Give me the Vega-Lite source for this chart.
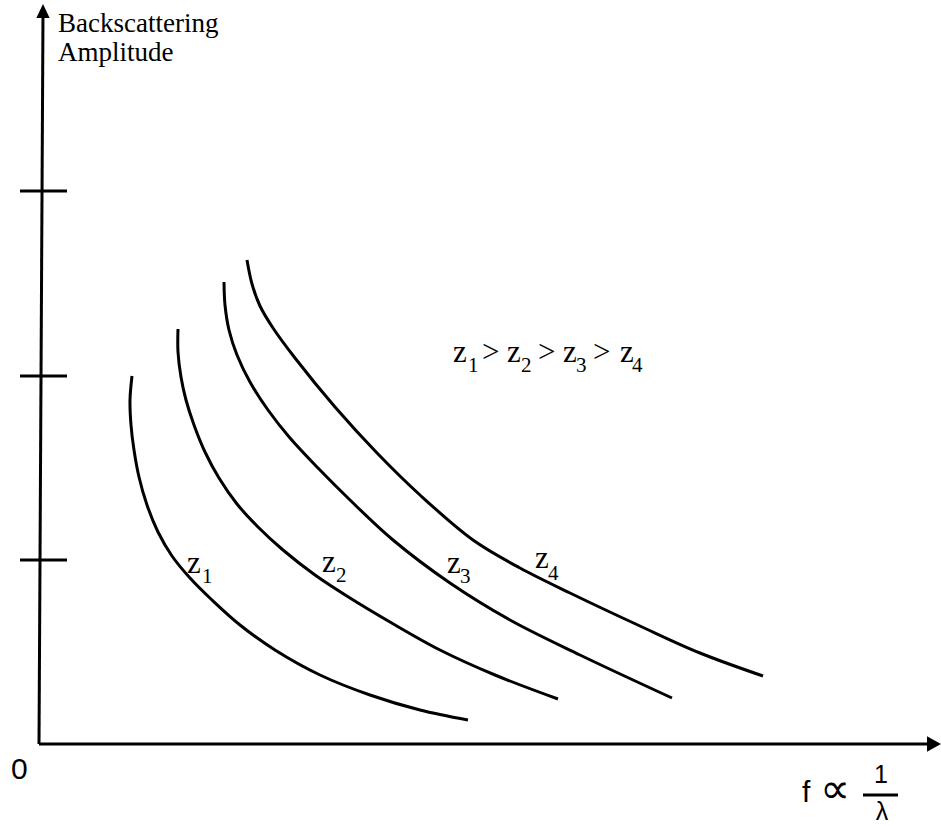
{
  "$schema": "https://vega.github.io/schema/vega-lite/v6.json",
  "width": 941,
  "height": 826,
  "autosize": "none",
  "padding": 0,
  "background": "white",
  "config": {"view": {"stroke": null}},
  "datasets": {
    "curves": [
      {"curve": "z1", "i": 0, "f": 0.92, "A": 3.68},
      {"curve": "z1", "i": 1, "f": 0.90, "A": 3.44},
      {"curve": "z1", "i": 2, "f": 0.91, "A": 3.19},
      {"curve": "z1", "i": 3, "f": 0.94, "A": 2.94},
      {"curve": "z1", "i": 4, "f": 0.99, "A": 2.67},
      {"curve": "z1", "i": 5, "f": 1.07, "A": 2.39},
      {"curve": "z1", "i": 6, "f": 1.18, "A": 2.12},
      {"curve": "z1", "i": 7, "f": 1.32, "A": 1.88},
      {"curve": "z1", "i": 8, "f": 1.50, "A": 1.66},
      {"curve": "z1", "i": 9, "f": 1.72, "A": 1.44},
      {"curve": "z1", "i": 10, "f": 2.00, "A": 1.19},
      {"curve": "z1", "i": 11, "f": 2.35, "A": 0.94},
      {"curve": "z1", "i": 12, "f": 2.80, "A": 0.69},
      {"curve": "z1", "i": 13, "f": 3.30, "A": 0.49},
      {"curve": "z1", "i": 14, "f": 3.80, "A": 0.34},
      {"curve": "z1", "i": 15, "f": 4.28, "A": 0.24},

      {"curve": "z2", "i": 0, "f": 1.38, "A": 4.15},
      {"curve": "z2", "i": 1, "f": 1.38, "A": 3.92},
      {"curve": "z2", "i": 2, "f": 1.41, "A": 3.67},
      {"curve": "z2", "i": 3, "f": 1.46, "A": 3.44},
      {"curve": "z2", "i": 4, "f": 1.54, "A": 3.19},
      {"curve": "z2", "i": 5, "f": 1.65, "A": 2.92},
      {"curve": "z2", "i": 6, "f": 1.79, "A": 2.66},
      {"curve": "z2", "i": 7, "f": 1.97, "A": 2.40},
      {"curve": "z2", "i": 8, "f": 2.18, "A": 2.17},
      {"curve": "z2", "i": 9, "f": 2.43, "A": 1.94},
      {"curve": "z2", "i": 10, "f": 2.75, "A": 1.69},
      {"curve": "z2", "i": 11, "f": 3.10, "A": 1.46},
      {"curve": "z2", "i": 12, "f": 3.50, "A": 1.22},
      {"curve": "z2", "i": 13, "f": 4.00, "A": 0.94},
      {"curve": "z2", "i": 14, "f": 4.55, "A": 0.69},
      {"curve": "z2", "i": 15, "f": 5.18, "A": 0.45},

      {"curve": "z3", "i": 0, "f": 1.84, "A": 4.62},
      {"curve": "z3", "i": 1, "f": 1.85, "A": 4.39},
      {"curve": "z3", "i": 2, "f": 1.89, "A": 4.14},
      {"curve": "z3", "i": 3, "f": 1.97, "A": 3.89},
      {"curve": "z3", "i": 4, "f": 2.10, "A": 3.62},
      {"curve": "z3", "i": 5, "f": 2.28, "A": 3.34},
      {"curve": "z3", "i": 6, "f": 2.50, "A": 3.06},
      {"curve": "z3", "i": 7, "f": 2.78, "A": 2.76},
      {"curve": "z3", "i": 8, "f": 3.10, "A": 2.44},
      {"curve": "z3", "i": 9, "f": 3.53, "A": 2.04},
      {"curve": "z3", "i": 10, "f": 4.10, "A": 1.61},
      {"curve": "z3", "i": 11, "f": 4.70, "A": 1.24},
      {"curve": "z3", "i": 12, "f": 5.40, "A": 0.89},
      {"curve": "z3", "i": 13, "f": 6.32, "A": 0.46},

      {"curve": "z4", "i": 0, "f": 2.07, "A": 4.84},
      {"curve": "z4", "i": 1, "f": 2.12, "A": 4.60},
      {"curve": "z4", "i": 2, "f": 2.20, "A": 4.38},
      {"curve": "z4", "i": 3, "f": 2.33, "A": 4.16},
      {"curve": "z4", "i": 4, "f": 2.55, "A": 3.86},
      {"curve": "z4", "i": 5, "f": 2.95, "A": 3.37},
      {"curve": "z4", "i": 6, "f": 3.38, "A": 2.90},
      {"curve": "z4", "i": 7, "f": 3.80, "A": 2.49},
      {"curve": "z4", "i": 8, "f": 4.33, "A": 2.04},
      {"curve": "z4", "i": 9, "f": 4.80, "A": 1.76},
      {"curve": "z4", "i": 10, "f": 5.30, "A": 1.51},
      {"curve": "z4", "i": 11, "f": 6.00, "A": 1.18},
      {"curve": "z4", "i": 12, "f": 6.60, "A": 0.91},
      {"curve": "z4", "i": 13, "f": 7.23, "A": 0.68}
    ],
    "axes": [
      {"f": -0.01, "A": 0, "f2": 8.88, "A2": 0},
      {"f": -0.01, "A": 0, "f2": 0.03, "A2": 7.30}
    ],
    "ticks": [
      {"f": -0.20, "f2": 0.27, "A": 5.53},
      {"f": -0.20, "f2": 0.27, "A": 3.68},
      {"f": -0.20, "f2": 0.27, "A": 1.84}
    ],
    "arrowUp": [{"f": 0.03, "A": 7.33}],
    "arrowRight": [{"f": 8.94, "A": 0}],
    "serifText": [
      {"t": "Backscattering\nAmplitude", "f": 0.18, "A": 7.12}
    ],
    "zText": [
      {"t": "z", "f": 1.47, "A": 1.71},
      {"t": "z", "f": 2.82, "A": 1.72},
      {"t": "z", "f": 4.07, "A": 1.71},
      {"t": "z", "f": 4.95, "A": 1.76},
      {"t": "z", "f": 4.13, "A": 3.82},
      {"t": ">", "f": 4.42, "A": 3.82},
      {"t": "z", "f": 4.67, "A": 3.82},
      {"t": ">", "f": 4.98, "A": 3.82},
      {"t": "z", "f": 5.23, "A": 3.82},
      {"t": ">", "f": 5.53, "A": 3.82},
      {"t": "z", "f": 5.80, "A": 3.82}
    ],
    "zSub": [
      {"t": "1", "f": 1.62, "A": 1.61},
      {"t": "2", "f": 2.96, "A": 1.62},
      {"t": "3", "f": 4.20, "A": 1.61},
      {"t": "4", "f": 5.08, "A": 1.64},
      {"t": "1", "f": 4.28, "A": 3.72},
      {"t": "2", "f": 4.81, "A": 3.72},
      {"t": "3", "f": 5.36, "A": 3.72},
      {"t": "4", "f": 5.92, "A": 3.72}
    ],
    "sansLarge": [
      {"t": "0", "f": -0.29, "A": -0.35},
      {"t": "f", "f": 7.62, "A": -0.58}
    ],
    "propto": [
      {"t": "∝", "f": 7.80, "A": -0.59}
    ],
    "fraction": [
      {"t": "1", "f": 8.41, "A": -0.39},
      {"t": "λ", "f": 8.42, "A": -0.76}
    ],
    "fractionBar": [{"f": 8.23, "f2": 8.58, "A": -0.51}]
  },
  "layer": [
    {
      "data": {"name": "axes"},
      "mark": {"type": "rule", "color": "black", "strokeWidth": 3},
      "encoding": {
        "x": {"field": "f", "type": "quantitative", "scale": {"domain": [-0.40, 9.01], "nice": false, "zero": false}, "axis": null},
        "y": {"field": "A", "type": "quantitative", "scale": {"domain": [-0.82, 7.44], "nice": false, "zero": false}, "axis": null},
        "x2": {"field": "f2"},
        "y2": {"field": "A2"}
      }
    },
    {
      "data": {"name": "ticks"},
      "mark": {"type": "rule", "color": "black", "strokeWidth": 3},
      "encoding": {
        "x": {"field": "f", "type": "quantitative"},
        "x2": {"field": "f2"},
        "y": {"field": "A", "type": "quantitative"}
      }
    },
    {
      "data": {"name": "arrowUp"},
      "mark": {"type": "point", "shape": "M0,-1L-0.95,1L0.95,1Z", "size": 196, "filled": true, "color": "black", "opacity": 1},
      "encoding": {
        "x": {"field": "f", "type": "quantitative"},
        "y": {"field": "A", "type": "quantitative"}
      }
    },
    {
      "data": {"name": "arrowRight"},
      "mark": {"type": "point", "shape": "M1,0L-1,-1.1L-1,1.1Z", "size": 196, "filled": true, "color": "black", "opacity": 1},
      "encoding": {
        "x": {"field": "f", "type": "quantitative"},
        "y": {"field": "A", "type": "quantitative"}
      }
    },
    {
      "data": {"name": "curves"},
      "mark": {"type": "line", "color": "black", "strokeWidth": 3, "interpolate": "catmull-rom"},
      "encoding": {
        "x": {"field": "f", "type": "quantitative"},
        "y": {"field": "A", "type": "quantitative"},
        "detail": {"field": "curve"},
        "order": {"field": "i", "type": "quantitative"}
      }
    },
    {
      "data": {"name": "serifText"},
      "mark": {"type": "text", "font": "Liberation Serif", "fontSize": 27, "lineHeight": 29, "lineBreak": "\n", "align": "left", "baseline": "alphabetic", "color": "black"},
      "encoding": {
        "x": {"field": "f", "type": "quantitative"},
        "y": {"field": "A", "type": "quantitative"},
        "text": {"field": "t"}
      }
    },
    {
      "data": {"name": "zText"},
      "mark": {"type": "text", "font": "Liberation Serif", "fontSize": 31, "align": "left", "baseline": "alphabetic", "color": "black"},
      "encoding": {
        "x": {"field": "f", "type": "quantitative"},
        "y": {"field": "A", "type": "quantitative"},
        "text": {"field": "t"}
      }
    },
    {
      "data": {"name": "zSub"},
      "mark": {"type": "text", "font": "Liberation Serif", "fontSize": 21, "align": "left", "baseline": "alphabetic", "color": "black"},
      "encoding": {
        "x": {"field": "f", "type": "quantitative"},
        "y": {"field": "A", "type": "quantitative"},
        "text": {"field": "t"}
      }
    },
    {
      "data": {"name": "sansLarge"},
      "mark": {"type": "text", "font": "Liberation Sans", "fontSize": 30, "align": "left", "baseline": "alphabetic", "color": "black"},
      "encoding": {
        "x": {"field": "f", "type": "quantitative"},
        "y": {"field": "A", "type": "quantitative"},
        "text": {"field": "t"}
      }
    },
    {
      "data": {"name": "propto"},
      "mark": {"type": "text", "font": "DejaVu Sans", "fontSize": 42, "align": "left", "baseline": "alphabetic", "color": "black"},
      "encoding": {
        "x": {"field": "f", "type": "quantitative"},
        "y": {"field": "A", "type": "quantitative"},
        "text": {"field": "t"}
      }
    },
    {
      "data": {"name": "fraction"},
      "mark": {"type": "text", "font": "Liberation Sans", "fontSize": 25, "align": "center", "baseline": "alphabetic", "color": "black"},
      "encoding": {
        "x": {"field": "f", "type": "quantitative"},
        "y": {"field": "A", "type": "quantitative"},
        "text": {"field": "t"}
      }
    },
    {
      "data": {"name": "fractionBar"},
      "mark": {"type": "rule", "color": "black", "strokeWidth": 3},
      "encoding": {
        "x": {"field": "f", "type": "quantitative"},
        "x2": {"field": "f2"},
        "y": {"field": "A", "type": "quantitative"}
      }
    }
  ]
}
